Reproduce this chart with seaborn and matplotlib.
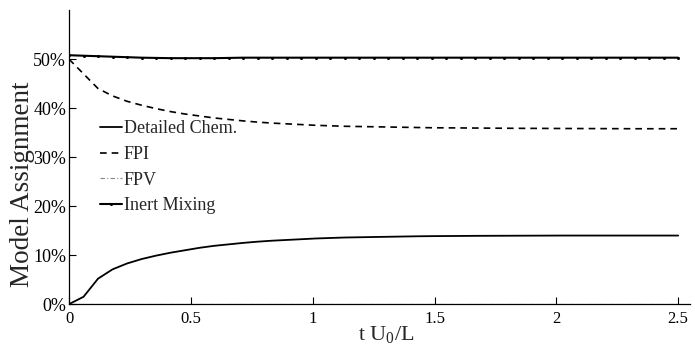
import numpy as np
import pandas as pd
import matplotlib
matplotlib.use("Agg")
import matplotlib.pyplot as plt
import seaborn as sns

sns.set_theme(style="white")
plt.rcParams['font.family'] = ['Liberation Serif', 'DejaVu Serif']
plt.rcParams['mathtext.default'] = 'regular'

# time grid (t U0 / L)
t = np.linspace(0, 2.5, 43)

detailed_chem = [0.0, 1.5, 5.2, 7.1, 8.3, 9.2, 9.9, 10.5, 11.0, 11.5, 11.9, 12.2,
                 12.5, 12.75, 12.95, 13.1, 13.25, 13.4, 13.5, 13.6, 13.65, 13.7,
                 13.75, 13.8, 13.85, 13.88, 13.9, 13.92, 13.94, 13.95, 13.96, 13.97,
                 13.98, 13.99, 14.0, 14.0, 14.0, 14.0, 14.0, 14.0, 14.0, 14.0, 14.0]
fpi = [50.0, 47.0, 44.0, 42.5, 41.4, 40.6, 39.9, 39.3, 38.8, 38.4, 38.0, 37.7,
       37.4, 37.15, 36.95, 36.8, 36.65, 36.5, 36.4, 36.3, 36.25, 36.2, 36.15,
       36.1, 36.05, 36.0, 35.98, 35.96, 35.94, 35.92, 35.9, 35.88, 35.87, 35.86,
       35.85, 35.84, 35.83, 35.82, 35.81, 35.8, 35.8, 35.8, 35.8]
fpv = [0.0] * 43
inert_mixing = [50.8, 50.7, 50.6, 50.5, 50.4, 50.3, 50.25, 50.2, 50.2, 50.2, 50.2,
                50.25, 50.3, 50.3, 50.3, 50.3, 50.3, 50.3, 50.3, 50.3, 50.3, 50.3,
                50.3, 50.3, 50.3, 50.3, 50.3, 50.3, 50.3, 50.3, 50.3, 50.3, 50.3,
                50.3, 50.3, 50.3, 50.3, 50.3, 50.3, 50.3, 50.3, 50.3, 50.3]

labels = ["Detailed Chem.", "FPI", "FPV", "Inert Mixing"]
yticks = [0, 10, 20, 30, 40, 50]
ytick_labels = ["0%", "10%", "20%", "30%", "40%", "50%"]
xticks = [0, 0.5, 1, 1.5, 2, 2.5]
xtick_labels = ["0", "0.5", "1", "1.5", "2", "2.5"]

fig = plt.figure(figsize=(6.95, 3.5), dpi=100)
ax = fig.add_axes([0.0993, 0.131, 0.894, 0.84])

df = pd.DataFrame({"t": t, labels[0]: detailed_chem, labels[1]: fpi,
                   labels[2]: fpv, labels[3]: inert_mixing})

sns.lineplot(data=df, x="t", y=labels[0], ax=ax, color="black", lw=1.3,
             label=labels[0])
sns.lineplot(data=df, x="t", y=labels[1], ax=ax, color="black", lw=1.2,
             label=labels[1])
ax.lines[-1].set_dashes([4, 3])
sns.lineplot(data=df, x="t", y=labels[2], ax=ax, color="#888888", lw=0.8,
             label=labels[2])
ax.lines[-1].set_dashes([4, 2, 1, 2])
sns.lineplot(data=df, x="t", y=labels[3], ax=ax, color="black", lw=1.5,
             marker="o", markersize=2.2, markeredgewidth=0, label=labels[3])

ax.set_xlim(0, 2.55)
ax.set_ylim(0, 60)
ax.set_xticks(xticks)
ax.set_xticklabels(xtick_labels)
ax.set_yticks(yticks)
ax.set_yticklabels(ytick_labels)
ax.tick_params(direction="in", length=5, width=0.8, colors="black",
               left=True, bottom=True)
ax.tick_params(axis="x", labelsize=12, pad=5)
ax.tick_params(axis="y", labelsize=13, pad=2)
for s in ["top", "right"]:
    ax.spines[s].set_visible(False)
for s in ["left", "bottom"]:
    ax.spines[s].set_color("black")
    ax.spines[s].set_linewidth(0.9)

ax.set_ylabel("Model Assignment", fontsize=19.5)
ax.yaxis.set_label_coords(-0.055, 0.408)
ax.set_xlabel("t U$_0$/L", fontsize=16)
ax.xaxis.set_label_coords(0.51, -0.068)

leg = ax.legend(loc="upper left", bbox_to_anchor=(0.131, 0.682),
                bbox_transform=fig.transFigure, frameon=False, fontsize=13,
                handlelength=1.2, handletextpad=0.1, labelspacing=0.48,
                borderpad=0)

fig.savefig("out.png", dpi=100)
